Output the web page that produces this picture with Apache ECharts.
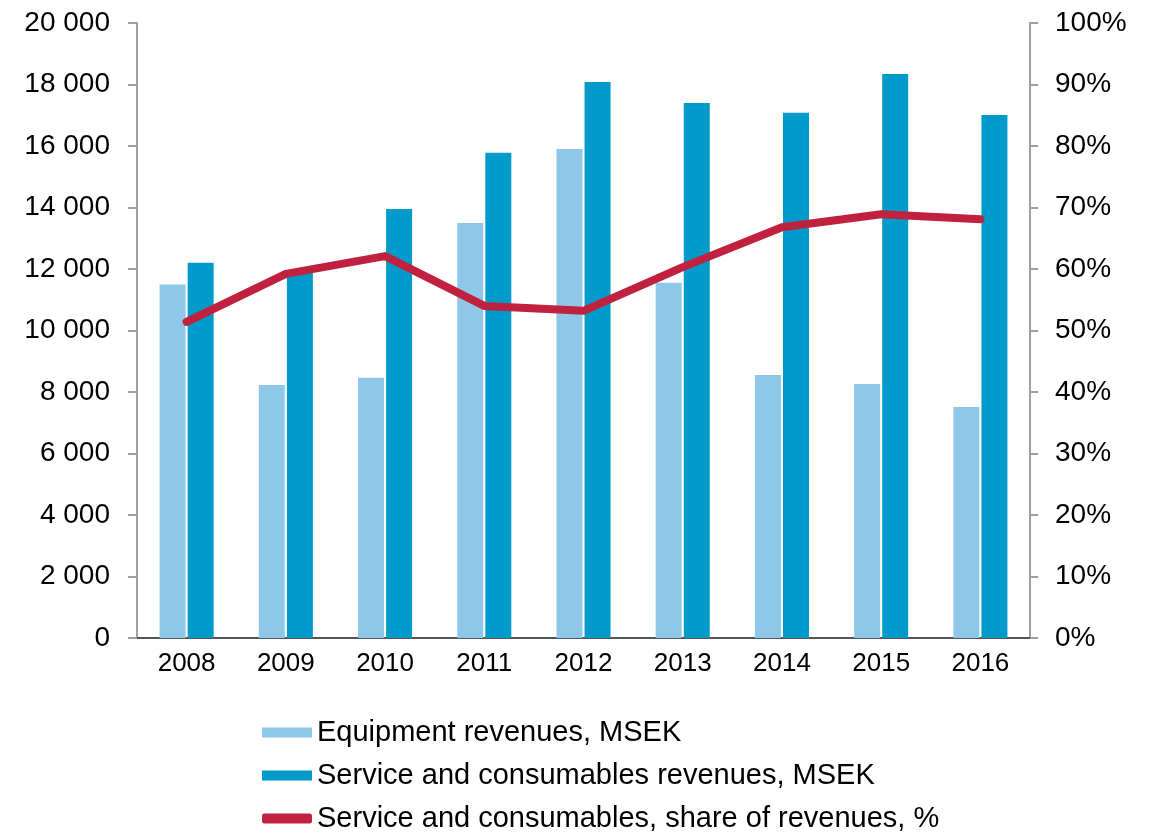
<!DOCTYPE html>
<html>
<head>
<meta charset="utf-8">
<script src="https://cdn.jsdelivr.net/npm/echarts@6/dist/echarts.min.js"></script>
<style>
html,body{margin:0;padding:0;background:#fff;}
#main{width:1158px;height:834px;}
</style>
</head>
<body>
<div id="main"></div>
<script>
// 年份
var years = ['2008', '2009', '2010', '2011', '2012', '2013', '2014', '2015', '2016'];
// 设备收入 MSEK
var equipment = [11500, 8230, 8460, 13500, 15900, 11550, 8550, 8260, 7510];
// 服务与耗材收入 MSEK
var service = [12200, 11900, 13950, 15780, 18080, 17400, 17080, 18340, 17010];
// 服务与耗材占比 %
var share = [51.4, 59.2, 62.1, 54.0, 53.2, 60.3, 66.8, 68.9, 68.1];

var nameEquip = 'Equipment revenues, MSEK';
var nameService = 'Service and consumables revenues, MSEK';
var nameShare = 'Service and consumables, share of revenues, %';

var myChart = echarts.init(document.getElementById('main'));
var font = 'Liberation Sans, Arial, sans-serif';

var option = {
	animation: false,
	backgroundColor: '#ffffff',
	grid: {
		left: 137,
		right: 128,
		top: 23,
		bottom: 196
	},
	legend: {
		orient: 'vertical',
		left: 262,
		top: 718,
		height: 140,
		padding: 0,
		itemWidth: 50,
		itemHeight: 10,
		itemGap: 14,
		textStyle: {
			fontFamily: font,
			fontSize: 29,
			lineHeight: 29,
			color: '#000'
		},
		data: [
			{name: nameEquip, icon: 'rect'},
			{name: nameService, icon: 'rect'},
			{name: nameShare, icon: 'roundRect'}
		]
	},
	xAxis: {
		type: 'category',
		data: years,
		axisLine: {lineStyle: {color: '#555', width: 2}},
		axisTick: {show: false},
		axisLabel: {fontFamily: font, fontSize: 26, color: '#000', margin: 13}
	},
	yAxis: [
		{
			type: 'value',
			min: 0,
			max: 20000,
			interval: 2000,
			splitLine: {show: false},
			axisLine: {show: true, lineStyle: {color: '#a0a0a0', width: 2}},
			axisTick: {show: true, length: 9, lineStyle: {color: '#a0a0a0', width: 2}},
			axisLabel: {
				fontFamily: font, fontSize: 28, color: '#000', margin: 27,
				formatter: function (v) {
					return String(v).replace(/\B(?=(\d{3})+(?!\d))/g, ' ');
				}
			}
		},
		{
			type: 'value',
			min: 0,
			max: 100,
			interval: 10,
			position: 'right',
			splitLine: {show: false},
			axisLine: {show: true, lineStyle: {color: '#a0a0a0', width: 2}},
			axisTick: {show: true, length: 8, lineStyle: {color: '#a0a0a0', width: 2}},
			axisLabel: {fontFamily: font, fontSize: 28, color: '#000', margin: 25, formatter: '{value}%'}
		}
	],
	series: [
		{
			name: nameEquip,
			type: 'bar',
			data: equipment,
			barWidth: 26,
			barGap: '8%',
			itemStyle: {color: '#8fc7e8'}
		},
		{
			name: nameService,
			type: 'bar',
			data: service,
			barWidth: 26,
			itemStyle: {color: '#009bcb'}
		},
		{
			name: nameShare,
			type: 'line',
			yAxisIndex: 1,
			data: share,
			symbol: 'none',
			lineStyle: {color: '#c0213f', width: 8, cap: 'round', join: 'round'},
			itemStyle: {color: '#c0213f'}
		}
	]
};

myChart.setOption(option);
</script>
</body>
</html>
